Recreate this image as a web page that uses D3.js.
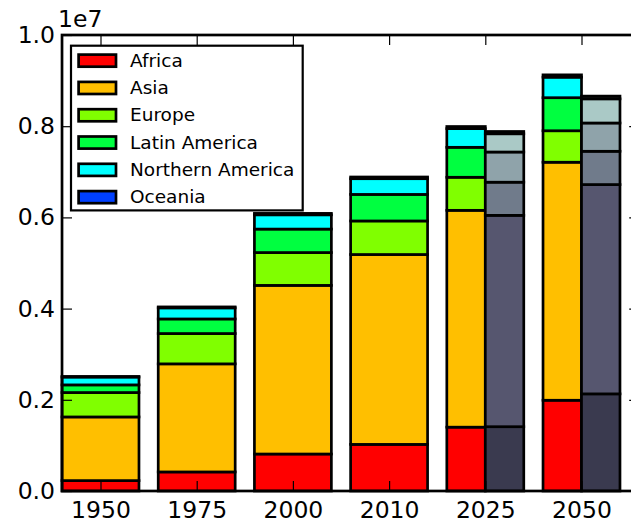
<!DOCTYPE html>
<html>
<head>
<meta charset="utf-8">
<script src="https://cdn.jsdelivr.net/npm/d3@7"></script>
<style>
  html, body { margin: 0; padding: 0; background: #fff; }
  svg { display: block; }
</style>
</head>
<body>
<script>
// ---- data (population, thousands) ----
const years = ["1950", "1975", "2000", "2010", "2025", "2050"];
const regions = ["Africa", "Asia", "Europe", "Latin America", "Northern America", "Oceania"];
const regionColors = ["#ff0000", "#ffbf00", "#80ff00", "#00ff40", "#00ffff", "#0040ff"];

const africa          = [228000, 418000, 811000, 1022000, 1400000, 1990000];
const asia            = [1396000, 2370000, 3698000, 4164000, 4755000, 5220000];
const europe          = [535000, 665000, 720000, 736000, 725000, 690000];
const latinAmerica    = [168000, 320000, 515000, 582000, 657000, 725000];
const northernAmerica = [172000, 243000, 313000, 345000, 410000, 450000];
const oceania         = [13000, 21000, 31000, 37000, 46000, 51000];

// second (alternative projection) bars
const altYears = ["2025", "2050"];
const altAfrica          = [1410000, 2130000];
const altAsia            = [4635000, 4590000];
const altEurope          = [727000, 730000];
const altLatinAmerica    = [662000, 620000];
const altNorthernAmerica = [400000, 530000];
const altOceania         = [50000, 60000];
const altColors = ["#3a3a4f", "#56566f", "#707b8b", "#8fa3aa", "#aac9c6", "#cfe6df"];

const yTicks = [0, 2e6, 4e6, 6e6, 8e6, 1e7];

// ---- layout ----
const W = 631, H = 523;
const FONT = "DejaVu Sans, sans-serif";
const TICK_FONT = 23.5;
const svg = d3.select("body").append("svg").attr("width", W).attr("height", H);

const x = d3.scalePoint().domain(years).range([100.5, 581.5]);
const step = x.step();
const y = d3.scaleLinear().domain([0, 1e7]).range([491, 35]);
const xLeft = x(years[0]) - 0.4 * step;
const xRight = x(years[years.length - 1]) + 0.6 * step;
const yTop = y(1e7), yBottom = y(0);

// ---- main stacked bars ----
const rows = years.map((yr, i) => ({
  year: yr,
  "Africa": africa[i], "Asia": asia[i], "Europe": europe[i],
  "Latin America": latinAmerica[i], "Northern America": northernAmerica[i], "Oceania": oceania[i]
}));
const series = d3.stack().keys(regions)(rows);

const bars = svg.append("g");
bars.append("g").selectAll("g").data(series).join("g")
  .attr("fill", (d, i) => regionColors[i])
  .selectAll("rect").data(d => d).join("rect")
  .attr("x", d => x(d.data.year) - 0.4 * step)
  .attr("width", d => altYears.includes(d.data.year) ? 0.4 * step : 0.8 * step)
  .attr("y", d => y(d[1]))
  .attr("height", d => y(d[0]) - y(d[1]))
  .attr("stroke", "#000").attr("stroke-width", 2.7);

// ---- alternative projection bars ----
const altRows = altYears.map((yr, i) => ({
  year: yr,
  "Africa": altAfrica[i], "Asia": altAsia[i], "Europe": altEurope[i],
  "Latin America": altLatinAmerica[i], "Northern America": altNorthernAmerica[i], "Oceania": altOceania[i]
}));
const altSeries = d3.stack().keys(regions)(altRows);
bars.append("g").selectAll("g").data(altSeries).join("g")
  .attr("fill", (d, i) => altColors[i])
  .selectAll("rect").data(d => d).join("rect")
  .attr("x", d => x(d.data.year))
  .attr("width", 0.4 * step)
  .attr("y", d => y(d[1]))
  .attr("height", d => y(d[0]) - y(d[1]))
  .attr("stroke", "#000").attr("stroke-width", 2.7);

// ---- axes (ticks inward) ----
function styleAxis(g, showLabels) {
  g.select(".domain").remove();
  g.selectAll(".tick line").attr("stroke", "#000").attr("stroke-width", 1.2);
  g.selectAll("text").attr("font-family", FONT).attr("font-size", TICK_FONT).attr("fill", "#000");
  if (!showLabels) g.selectAll("text").remove();
}
svg.append("g").attr("transform", `translate(${xLeft},0)`)
  .call(d3.axisLeft(y).tickValues(yTicks).tickSize(-10).tickPadding(7)
    .tickFormat(d => (d / 1e7).toFixed(1)))
  .call(g => styleAxis(g, true));
svg.append("g").attr("transform", `translate(${xRight},0)`)
  .call(d3.axisRight(y).tickValues(yTicks).tickSize(-10))
  .call(g => styleAxis(g, false));
svg.append("g").attr("transform", `translate(0,${yBottom})`)
  .call(d3.axisBottom(x).tickSize(-10).tickPadding(10))
  .call(g => styleAxis(g, true));
svg.append("g").attr("transform", `translate(0,${yTop})`)
  .call(d3.axisTop(x).tickSize(-10))
  .call(g => styleAxis(g, false));

// spines
svg.append("rect")
  .attr("x", xLeft).attr("y", yTop).attr("width", xRight - xLeft).attr("height", yBottom - yTop)
  .attr("fill", "none").attr("stroke", "#000").attr("stroke-width", 2.7);

// offset text
svg.append("text").attr("x", 58).attr("y", 27)
  .attr("font-family", FONT).attr("font-size", TICK_FONT).text("1e7");

// ---- legend ----
const legend = svg.append("g");
legend.append("rect")
  .attr("x", 71).attr("y", 45.7).attr("width", 231.7).attr("height", 164.7)
  .attr("fill", "#fff").attr("stroke", "#000").attr("stroke-width", 2.2);
const items = legend.selectAll("g.item").data(regions).join("g")
  .attr("class", "item")
  .attr("transform", (d, i) => `translate(0,${i * 27.3})`);
items.append("rect")
  .attr("x", 78.6).attr("y", 54.6).attr("width", 37.4).attr("height", 12.1)
  .attr("fill", (d, i) => regionColors[i])
  .attr("stroke", "#000").attr("stroke-width", 2.7);
items.append("text")
  .attr("x", 130).attr("y", 66.7)
  .attr("font-family", FONT).attr("font-size", 18.5).attr("fill", "#000")
  .text(d => d);
</script>
</body>
</html>
